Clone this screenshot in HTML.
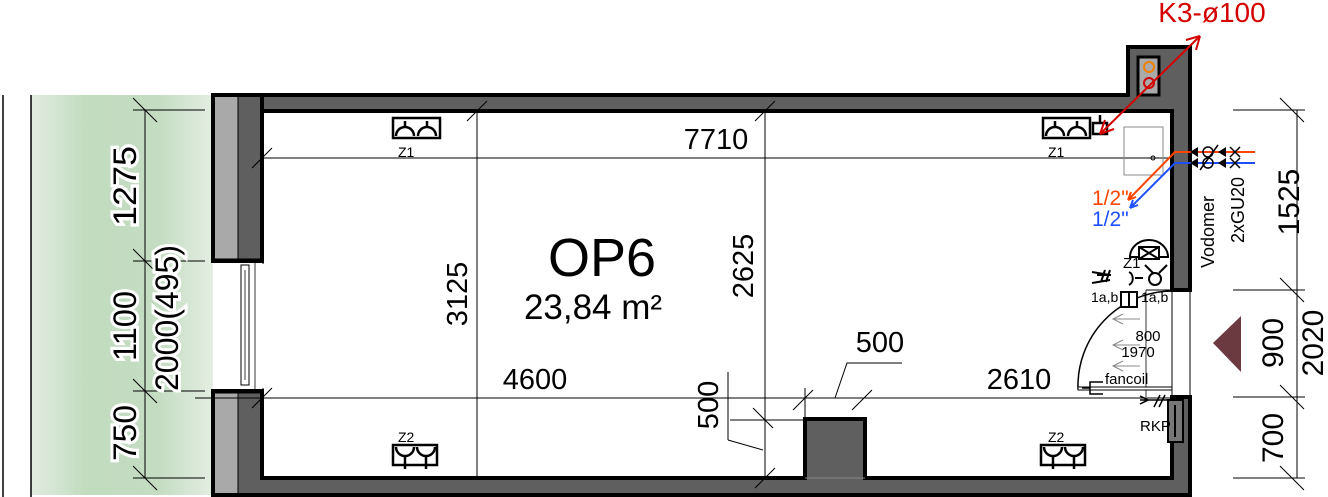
<!DOCTYPE html>
<html><head><meta charset="utf-8"><style>
html,body{margin:0;padding:0;background:#fff;}
svg{display:block;font-family:"Liberation Sans",sans-serif;}
</style></head><body>
<svg width="1328" height="497" viewBox="0 0 1328 497" xmlns="http://www.w3.org/2000/svg">
<defs>
<linearGradient id="g" x1="0" x2="1" y1="0" y2="0">
<stop offset="0" stop-color="#e2ece0"/><stop offset="0.3" stop-color="#c2dcc0"/><stop offset="0.7" stop-color="#c4dcc2"/><stop offset="1" stop-color="#e4eee2"/>
</linearGradient>
</defs>
<rect x="31" y="95" width="182" height="400" fill="url(#g)"/>
<line x1="3" y1="95" x2="3" y2="497" stroke="#000" stroke-width="1.5"/>
<line x1="31" y1="95" x2="31" y2="497" stroke="#000" stroke-width="1.5"/>

<g stroke="#000" stroke-width="4">
<path d="M213,95 H1128 V47 H1190 V290 H1172 V111 H262 Z" fill="#5f5f5f"/>
<path d="M213,391 H262 V478 H805 V419 H865 V478 H1172 V397 H1190 V495 H213 Z" fill="#5f5f5f"/>
<rect x="213" y="95" width="49" height="166" fill="#5f5f5f"/>
</g>
<rect x="215" y="97" width="23" height="162" fill="#a9a9a9"/>
<rect x="215" y="393" width="23" height="100" fill="#a9a9a9"/>
<line x1="238" y1="95" x2="238" y2="495" stroke="#000" stroke-width="1"/>
<line x1="213" y1="261" x2="264" y2="261" stroke="#000" stroke-width="5"/>
<line x1="213" y1="391" x2="264" y2="391" stroke="#000" stroke-width="5"/>
<rect x="213" y="263" width="49" height="126" fill="#fff"/>
<rect x="241" y="265" width="8" height="120" fill="#fff" stroke="#000" stroke-width="1"/>
<line x1="245" y1="270" x2="245" y2="380" stroke="#000" stroke-width="0.8"/>
<line x1="255" y1="263" x2="255" y2="389" stroke="#000" stroke-width="0.8"/>
<rect x="1138" y="57" width="21" height="38" fill="#aaa" stroke="#000" stroke-width="3"/>
<circle cx="1149" cy="67" r="5" fill="none" stroke="#f08000" stroke-width="2"/>
<circle cx="1149" cy="83" r="5" fill="none" stroke="#c00" stroke-width="2"/>
<line x1="805" y1="478" x2="865" y2="478" stroke="#888" stroke-width="1"/>
<rect x="1172" y="292" width="18" height="103" fill="#fff"/>
<line x1="1172" y1="292" x2="1172" y2="397" stroke="#000" stroke-width="1"/>
<line x1="1190" y1="292" x2="1190" y2="397" stroke="#000" stroke-width="1"/>
<line x1="1146" y1="290" x2="1190" y2="290" stroke="#000" stroke-width="1"/>
<line x1="1146" y1="290" x2="1146" y2="397" stroke="#000" stroke-width="0.8"/>
<path d="M1078,389 A95,95 0 0 1 1172,291" fill="none" stroke="#000" stroke-width="1.5"/>
<rect x="1078" y="387" width="94" height="3" fill="#fff" stroke="#000" stroke-width="1"/>
<path d="M1103,382 h-13 v12 h13 M1090,388 h-8" fill="none" stroke="#000" stroke-width="1.5"/>
<g stroke="#888" stroke-width="1" fill="none">
<path d="M1140,319 h-27 m10,-5 l-10,5 l10,5"/>
<path d="M1140,345 h-27 m10,-5 l-10,5 l10,5"/>
<path d="M1140,366 h-27 m10,-5 l-10,5 l10,5"/>
</g>
<text x="1148" y="341" font-size="15" text-anchor="middle">800</text>
<text x="1138" y="357" font-size="15" text-anchor="middle">1970</text>
<text x="1105" y="384" font-size="15">fancoil</text>
<rect x="1168" y="400" width="15" height="42" fill="#777" stroke="#000" stroke-width="2"/>
<line x1="1175" y1="405" x2="1175" y2="437" stroke="#000" stroke-width="2"/>
<text x="1140" y="431" font-size="15">RKP</text>
<path d="M1140,400 h30 M1160,395 l-6,12 M1165,395 l-6,12 M1140,396 l8,4 l-8,4" fill="none" stroke="#000" stroke-width="1.5"/>

<g stroke="#000" stroke-width="1" fill="none">
<line x1="262" y1="158" x2="1172" y2="158"/>
<line x1="477" y1="111" x2="477" y2="478"/>
<line x1="765" y1="111" x2="765" y2="478"/>
<line x1="195" y1="398" x2="1172" y2="398"/>
<path d="M252,168 l20,-20 M467,121 l20,-20 M755,121 l20,-20 M252,408 l20,-20 M755,488 l20,-20"/>
<rect x="1124" y="127" width="39" height="48" stroke="#888"/>
<circle cx="1153" cy="158" r="2"/>
<line x1="730" y1="420" x2="805" y2="420"/>
<line x1="728" y1="372" x2="728" y2="440"/>
<path d="M728,440 l35,10"/>
<path d="M753,408 l20,20 M793,410 l20,-20 M852,410 l20,-20"/>
<line x1="805" y1="388" x2="805" y2="419"/>
<path d="M835,398 l12,-35 h55"/>
</g>
<g stroke="#000" stroke-width="1">
<line x1="145" y1="110" x2="145" y2="478"/>
<line x1="133" y1="110" x2="205" y2="110"/>
<line x1="133" y1="261" x2="205" y2="261"/>
<line x1="133" y1="391" x2="205" y2="391"/>
<line x1="133" y1="478" x2="205" y2="478"/>
<path d="M133,98 l24,24 M133,249 l24,24 M133,379 l24,24 M133,466 l24,24"/>
</g>
<g font-size="32" fill="#000">
<text transform="translate(136,186) rotate(-90)" text-anchor="middle" textLength="80" lengthAdjust="spacingAndGlyphs" style="paint-order:stroke" stroke="#fff" stroke-width="6">1275</text>
<text transform="translate(136,326) rotate(-90)" text-anchor="middle" textLength="70" lengthAdjust="spacingAndGlyphs" style="paint-order:stroke" stroke="#fff" stroke-width="6">1100</text>
<text transform="translate(178,318) rotate(-90)" text-anchor="middle" textLength="146" lengthAdjust="spacingAndGlyphs" style="paint-order:stroke" stroke="#fff" stroke-width="6">2000(495)</text>
<text transform="translate(136,433) rotate(-90)" text-anchor="middle" textLength="56" lengthAdjust="spacingAndGlyphs" style="paint-order:stroke" stroke="#fff" stroke-width="6">750</text>
</g>
<g stroke="#000" stroke-width="1">
<line x1="1297" y1="110" x2="1297" y2="478"/>
<line x1="1233" y1="110" x2="1305" y2="110"/>
<line x1="1233" y1="290" x2="1305" y2="290"/>
<line x1="1233" y1="397" x2="1305" y2="397"/>
<line x1="1233" y1="478" x2="1305" y2="478"/>
<path d="M1280,98 l24,24 M1280,278 l24,24 M1280,385 l24,24 M1280,466 l24,24"/>
</g>
<g font-size="30">
<text transform="translate(1299,202) rotate(-90)" text-anchor="middle">1525</text>
<text transform="translate(1283,343) rotate(-90)" text-anchor="middle">900</text>
<text transform="translate(1323,343) rotate(-90)" text-anchor="middle">2020</text>
<text transform="translate(1283,438) rotate(-90)" text-anchor="middle">700</text>
</g>
<polygon points="1213,343 1241,316 1241,372" fill="#6b3a40"/>
<g font-size="18">
<text transform="translate(1214,232) rotate(-90)" text-anchor="middle">Vodomer</text>
<text transform="translate(1244,210) rotate(-90)" text-anchor="middle">2xGU20</text>
</g>

<text x="602" y="276" font-size="54" text-anchor="middle">OP6</text>
<text x="593" y="319" font-size="35" text-anchor="middle">23,84 m²</text>
<g font-size="29">
<text x="716" y="149" text-anchor="middle">7710</text>
<text transform="translate(467,294) rotate(-90)" text-anchor="middle">3125</text>
<text transform="translate(753,266) rotate(-90)" text-anchor="middle">2625</text>
<text x="535" y="389" text-anchor="middle">4600</text>
<text x="1019" y="389" text-anchor="middle">2610</text>
<text x="880" y="352" text-anchor="middle">500</text>
<text transform="translate(718,405) rotate(-90)" text-anchor="middle">500</text>
</g>
<g fill="none" stroke="#000" stroke-width="2.5">
<rect x="393" y="118" width="47" height="20" fill="#fff"/>
<path d="M396,136 a9,9 0 0 1 18,0 M418,136 a9,9 0 0 1 18,0 M405,127 v-6 M427,127 v-6"/>
<rect x="1043" y="118" width="47" height="20" fill="#fff"/>
<path d="M1046,136 a9,9 0 0 1 18,0 M1068,136 a9,9 0 0 1 18,0 M1055,127 v-6 M1077,127 v-6"/>
<rect x="1093" y="123" width="14" height="11" fill="#fff"/>
<path d="M1100,123 v-8"/>
<rect x="393" y="445" width="44" height="20" fill="#fff"/>
<path d="M396,447 a9,9 0 0 0 18,0 M417,447 a9,9 0 0 0 18,0 M405,456 v13 M426,456 v13"/>
<rect x="1041" y="445" width="44" height="20" fill="#fff"/>
<path d="M1044,447 a9,9 0 0 0 18,0 M1065,447 a9,9 0 0 0 18,0 M1053,456 v13 M1074,456 v13"/>
</g>
<g font-size="14">
<text x="398" y="157">Z1</text><text x="1048" y="157">Z1</text>
<text x="398" y="442">Z2</text><text x="1048" y="442">Z2</text>
</g>
<g fill="none" stroke="#000" stroke-width="2">
<path d="M1130,257 a19,17 0 0 1 38,0 z" fill="#fff"/>
<rect x="1139" y="247" width="20" height="12" fill="#fff"/>
<path d="M1139,247 l20,12 M1159,247 l-20,12"/>
<circle cx="1155" cy="279" r="6"/>
<path d="M1145,265 l8,8 M1167,265 l-8,8 M1129,272 a6,7 0 0 1 0,13 M1135,278 h8"/>
<path d="M1092,272 l18,3 M1092,283 l18,-3 M1097,275 l14,0 M1105,270 l-4,12 M1110,270 l-4,12"/>
<rect x="1121" y="292" width="16" height="15" fill="#fff"/>
<line x1="1129" y1="292" x2="1129" y2="307"/>
</g>
<text x="1123" y="268" font-size="15">Z1</text>
<text x="1091" y="302" font-size="14">1a,b</text>
<text x="1141" y="302" font-size="14">1a,b</text>

<g stroke="#d40000" stroke-width="2" fill="none">
<line x1="1100" y1="134" x2="1200" y2="36"/>
<path d="M1100,134 l5,-14 M1100,134 l14,-5 M1200,36 l-14,4 M1200,36 l-4,14"/>
</g>
<text x="1212" y="22" font-size="28" fill="#d40000" text-anchor="middle">K3-ø100</text>
<g stroke-width="2" fill="none">
<path d="M1255,152 H1175 L1128,200" stroke="#ff4500"/>
<path d="M1255,163 H1175 L1130,208" stroke="#1e50ff"/>
<path d="M1130,208 l3,-8 M1130,208 l8,-3" stroke="#1e50ff"/>
<path d="M1128,200 l3,-8 M1128,200 l8,-3" stroke="#ff4500"/>
</g>
<g stroke="#000" stroke-width="1.5" fill="none">
<circle cx="1208" cy="152" r="5"/><circle cx="1208" cy="163" r="5"/>
<path d="M1200,170 l18,-25 M1230,147 l10,10 M1230,157 l10,-10 M1230,158 l10,10 M1230,168 l10,-10"/>
</g>
<polygon points="1190,152 1198,147 1198,157" fill="#000"/>
<polygon points="1190,163 1198,158 1198,168" fill="#000"/>
<polygon points="1218,152 1226,147 1226,157" fill="#000"/>
<polygon points="1218,163 1226,158 1226,168" fill="#000"/>
<text x="1092" y="205" font-size="21" fill="#ff4500">1/2"</text>
<text x="1092" y="226" font-size="21" fill="#1e50ff">1/2"</text>
</svg>
</body></html>
